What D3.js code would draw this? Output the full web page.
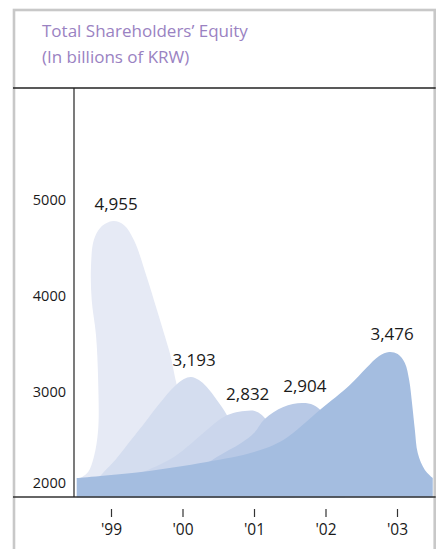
<!DOCTYPE html>
<html>
<head>
<meta charset="utf-8">
<script src="https://cdn.jsdelivr.net/npm/d3@7"></script>
<style>
  body { margin: 0; background: #fff; }
  svg { display: block; }
</style>
</head>
<body>
<div id="chart"></div>
<script>
// values
const years = [1999, 2000, 2001, 2002, 2003];
const yearLabels = ["'99", "'00", "'01", "'02", "'03"];
const equity = [4955, 3193, 2832, 2904, 3476];
const yTicks = [2000, 3000, 4000, 5000];

// outline of each year's hill, as [year, value] pairs
const hill99 = [
  [1998.57, 2104], [1998.68, 2167], [1998.76, 2323], [1998.82, 2604], [1998.82, 3125],
  [1998.79, 3594], [1998.73, 3958], [1998.72, 4302], [1998.76, 4583], [1998.86, 4719],
  [1999.03, 4781], [1999.18, 4740], [1999.32, 4583], [1999.5, 4198], [1999.63, 3885],
  [1999.74, 3615], [1999.83, 3385], [1999.92, 3073], [2000.1, 2604], [2000.24, 2083],
];
const hill00 = [
  [1998.82, 2104], [1998.9, 2167], [1999.06, 2292], [1999.28, 2500], [1999.48, 2688],
  [1999.64, 2844], [1999.88, 3052], [2000.02, 3135], [2000.12, 3156], [2000.23, 3125],
  [2000.34, 3052], [2000.48, 2917], [2000.62, 2760], [2000.8, 2448], [2000.94, 2083],
];
const hill01 = [
  [1999.27, 2104], [1999.42, 2156], [1999.88, 2323], [2000.34, 2604], [2000.55, 2729],
  [2000.71, 2781], [2000.87, 2802], [2001.01, 2802], [2001.11, 2760], [2001.22, 2656],
  [2001.43, 2292], [2001.57, 1979],
];
const hill02 = [
  [2000.17, 2167], [2000.48, 2323], [2000.82, 2469], [2001.0, 2573], [2001.15, 2719],
  [2001.41, 2844], [2001.67, 2885], [2001.83, 2865], [2001.95, 2792], [2002.13, 2500],
  [2002.27, 2083],
];
const hill03 = [
  [1998.52, 2104], [1999.42, 2167], [2000.34, 2271], [2001.0, 2375], [2001.41, 2500],
  [2001.92, 2812], [2002.34, 3073], [2002.57, 3250], [2002.75, 3375], [2002.89, 3417],
  [2003.01, 3396], [2003.11, 3302], [2003.17, 3125], [2003.21, 2885], [2003.25, 2604],
  [2003.29, 2365], [2003.39, 2188], [2003.5, 2104],
];
const hills = [hill99, hill00, hill01, hill02, hill03];

const palette = ["#e6eaf5", "#d4ddef", "#cbd6ec", "#b8c9e6", "#a4bde0"];

const width = 441, height = 549;
const frame = { left: 14, right: 434.7, top: 10 };
const plot = { left: 74, top: 88, bottom: 497 };
const baseValue = 1900;

const svg = d3.select("#chart")
  .append("svg")
  .attr("width", width)
  .attr("height", height);

const x = d3.scaleLinear().domain([1999, 2003]).range([111, 397]);
const y = d3.scaleLinear().domain([2000, 5000]).range([488, 200]);

// title
const title = svg.append("g")
  .style("font-family", "'Open Sans', sans-serif")
  .style("font-size", "17px")
  .attr("fill", "#9a82c2");
title.append("text").attr("x", 42).attr("y", 37).text("Total Shareholders\u2019 Equity");
title.append("text").attr("x", 42).attr("y", 63).text("(In billions of KRW)");

// hills, back to front
const line = d3.line()
  .x((d) => x(d[0]))
  .y((d) => y(d[1]))
  .curve(d3.curveCatmullRom.alpha(0.5));

svg.append("g")
  .selectAll("path")
  .data(hills)
  .join("path")
  .attr("fill", (d, i) => palette[i])
  .attr("d", (d) => {
    const first = d[0], last = d[d.length - 1];
    return line(d) +
      `L${x(last[0])},${y(baseValue)}L${x(first[0])},${y(baseValue)}Z`;
  });

// value labels above each peak
svg.append("g")
  .selectAll("text")
  .data(hills)
  .join("text")
  .attr("x", (d) => x(d3.greatest(d, (p) => p[1])[0]) + 3)
  .attr("y", (d) => y(d3.max(d, (p) => p[1])) - 18)
  .attr("text-anchor", "middle")
  .attr("dominant-baseline", "central")
  .style("font-family", "'Open Sans', sans-serif")
  .style("font-size", "17px")
  .attr("fill", "#1a1a1a")
  .text((d, i) => d3.format(",")(equity[i]));

// frame and rules
svg.append("rect")
  .attr("x", frame.left)
  .attr("y", frame.top)
  .attr("width", frame.right - frame.left)
  .attr("height", height + 20)
  .attr("fill", "none")
  .attr("stroke", "#c8c8c8")
  .attr("stroke-width", 2.6);

svg.append("line")
  .attr("x1", frame.left - 1).attr("x2", frame.right + 1)
  .attr("y1", plot.top).attr("y2", plot.top)
  .attr("stroke", "#222").attr("stroke-width", 1.5);

svg.append("line")
  .attr("x1", frame.left - 1).attr("x2", frame.right + 1)
  .attr("y1", plot.bottom).attr("y2", plot.bottom)
  .attr("stroke", "#333").attr("stroke-width", 1.6);

svg.append("line")
  .attr("x1", plot.left).attr("x2", plot.left)
  .attr("y1", plot.top).attr("y2", plot.bottom)
  .attr("stroke", "#222").attr("stroke-width", 1.2);

// y axis labels (lowest one lifted clear of the baseline)
const yAxis = svg.append("g")
  .attr("transform", `translate(${plot.left},0)`)
  .call(d3.axisLeft(y).tickValues(yTicks).tickSize(0).tickPadding(8).tickFormat(d3.format("d")));
yAxis.select(".domain").remove();
yAxis.selectAll("text")
  .attr("y", (d) => (d === yTicks[0] ? -5 : 0))
  .style("font-family", "'Open Sans', sans-serif")
  .style("font-size", "14.5px")
  .attr("fill", "#1a1a1a");

// x axis ticks and labels
const xAxis = svg.append("g")
  .attr("transform", `translate(0,${plot.bottom + 12})`)
  .call(d3.axisBottom(x).tickValues(years).tickSize(8).tickPadding(7)
    .tickFormat((d, i) => yearLabels[i]));
xAxis.select(".domain").remove();
xAxis.selectAll("line").attr("stroke", "#333").attr("stroke-width", 1.2);
xAxis.selectAll("text")
  .style("font-family", "'Open Sans', sans-serif")
  .style("font-size", "15.5px")
  .attr("fill", "#1a1a1a");
</script>
</body>
</html>
